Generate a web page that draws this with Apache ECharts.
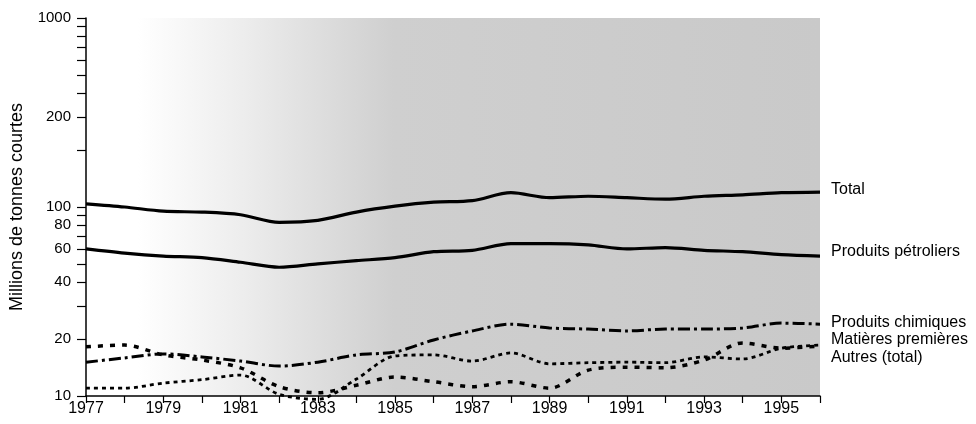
<!doctype html>
<html lang="fr">
<head>
    <meta charset="UTF-8">
    <title>Millions de tonnes courtes</title>
    <style>
        html, body { margin: 0; padding: 0; background: #fff; }
    </style>
</head>
<body>
    <script src="https://cdn.jsdelivr.net/npm/echarts@6/dist/echarts.min.js"></script>
    <div id="chart" style="width: 976px; height: 424px"></div>

    <script>
        // années
        var years = ['1977', '1978', '1979', '1980', '1981', '1982', '1983', '1984', '1985', '1986',
                     '1987', '1988', '1989', '1990', '1991', '1992', '1993', '1994', '1995', '1996'];

        // séries (millions de tonnes courtes)
        var total      = [104, 100, 95, 94, 91, 83, 85, 94, 101, 106, 108, 119, 112, 114, 112, 110, 114, 116, 119, 120];
        var petroliers = [60, 57, 55, 54, 51, 48, 50, 52, 54, 58, 59, 64, 64, 63, 60, 61, 59, 58, 56, 55];
        var chimiques  = [15.1, 15.9, 16.7, 16.1, 15.3, 14.4, 15.1, 16.5, 17.1, 19.8, 22.1, 24.0, 22.9, 22.6, 22.1, 22.6, 22.6, 22.9, 24.3, 24.0];
        var matieres   = [11.0, 11.0, 11.7, 12.2, 12.9, 10.2, 9.6, 12.3, 16.3, 16.5, 15.3, 16.9, 14.8, 15.0, 15.1, 15.0, 16.1, 15.7, 17.9, 18.6];
        var autres     = [18.2, 18.6, 16.5, 15.5, 14.1, 11.2, 10.4, 11.4, 12.6, 11.9, 11.2, 11.9, 11.0, 13.7, 14.2, 14.1, 15.5, 19.1, 17.9, 18.4];

        // graduations de l'axe vertical
        var yTicks = [10, 20, 30, 40, 50, 60, 70, 80, 90, 100, 200, 300, 400, 500, 600, 700, 800, 900, 1000];
        var yLabelValues = [10, 20, 40, 60, 80, 100, 300, 1000];
        var yLabelTexts  = ['10', '20', '40', '60', '80', '100', '200', '1000'];

        var font = '"Liberation Sans", Arial, sans-serif';

        function lineSeries(name, data, type, width, dy) {
            return {
                name: name,
                type: 'line',
                data: data,
                symbol: 'none',
                smooth: 0.3,
                clip: false,
                lineStyle: { color: '#000', width: width, type: type },
                endLabel: {
                    show: true,
                    formatter: '{a}',
                    color: '#000',
                    fontFamily: font,
                    fontSize: 16,
                    distance: 11,
                    offset: [0, dy]
                }
            };
        }

        var option = {
            animation: false,
            backgroundColor: '#fff',
            grid: {
                left: 77, right: 156, top: 18, bottom: 28,
                show: true,
                borderWidth: 0,
                backgroundColor: {
                    type: 'linear', x: 0, y: 0, x2: 1, y2: 0,
                    colorStops: [
                        { offset: 0, color: '#ffffff' },
                        { offset: 0.07, color: '#ffffff' },
                        { offset: 0.22, color: '#ececec' },
                        { offset: 0.42, color: '#cfcfcf' },
                        { offset: 1, color: '#c9c9c9' }
                    ]
                }
            },
            xAxis: {
                type: 'category',
                data: years,
                boundaryGap: false,
                axisLine: { lineStyle: { color: '#000', width: 1.5 } },
                axisTick: { show: true, interval: 0, length: 7, lineStyle: { color: '#000', width: 1.2 } },
                axisLabel: { interval: 1, color: '#000', fontFamily: font, fontSize: 16, margin: 5 },
                splitLine: { show: false }
            },
            yAxis: {
                type: 'log',
                logBase: 10,
                min: 10,
                max: 1000,
                name: 'Millions de tonnes courtes',
                nameLocation: 'middle',
                nameRotate: 90,
                nameGap: 60,
                nameTextStyle: { color: '#000', fontFamily: font, fontSize: 18 },
                axisLine: { show: true, lineStyle: { color: '#000', width: 1.5 } },
                axisTick: { show: true, length: 9, customValues: yTicks, lineStyle: { color: '#000', width: 1.2 } },
                axisLabel: {
                    color: '#000', fontFamily: font, fontSize: 15, margin: 15,
                    customValues: yLabelValues,
                    formatter: function (v) {
                        var i = yLabelValues.indexOf(Math.round(v));
                        return i >= 0 ? yLabelTexts[i] : '';
                    }
                },
                splitLine: { show: false },
                minorTick: { show: false }
            },
            series: [
                lineSeries('Total', total, 'solid', 3.2, -2),
                lineSeries('Produits pétroliers', petroliers, 'solid', 3.2, -4),
                lineSeries('Produits chimiques', chimiques, [12, 4, 3, 4], 3, -2),
                lineSeries('Matières premières', matieres, [4, 4], 2.8, -5),
                lineSeries('Autres (total)', autres, [5, 7], 3.5, 12)
            ]
        };

        var chart = echarts.init(document.getElementById('chart'));
        chart.setOption(option);
    </script>
</body>
</html>
